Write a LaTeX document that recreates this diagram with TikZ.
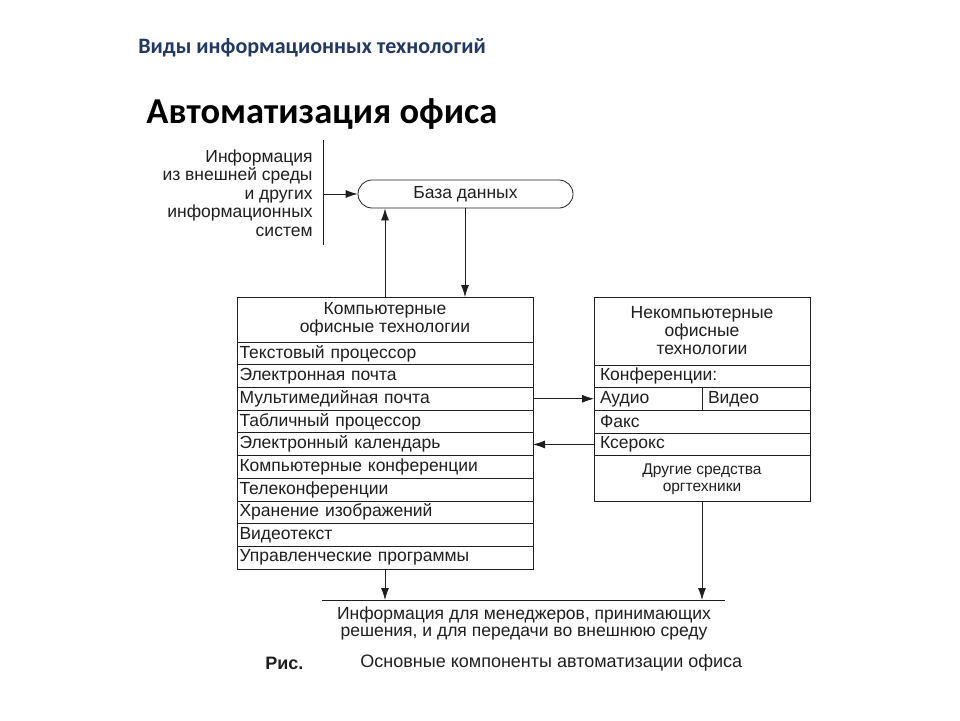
\documentclass[tikz,border=0pt]{standalone}
\usepackage{fontspec}
\setmainfont{Liberation Sans}
\newfontfamily\calibri{Carlito}
\usetikzlibrary{arrows.meta, positioning}
\definecolor{navy}{RGB}{32,56,100}
\definecolor{ink}{RGB}{30,30,30}
\tikzstyle{every node}=[font=\fontsize{17.5}{18}\selectfont, text=ink]
\tikzstyle{row}=[draw=ink, rectangle, anchor=north west, inner xsep=2.5pt, inner ysep=0pt, outer sep=0pt, align=left, minimum height=22.7pt]
\tikzstyle{head}=[draw=ink, rectangle, anchor=north west, inner sep=0pt, outer sep=0pt, align=center]
\tikzstyle{arr}=[-{Latex[length=12pt,width=8pt]}, draw=ink, line width=0.8pt]

\begin{document}
\begin{tikzpicture}[x=1pt, y=-1pt, line width=0.8pt]
    \useasboundingbox (0,0) rectangle (960,720);
    % titles
    \node[anchor=west, inner sep=0pt, text=navy, font=\calibri\bfseries\fontsize{22}{24}\selectfont] (kind) at (138,48) {Виды информационных технологий};
    \node[anchor=west, inner sep=0pt, text=black, font=\calibri\bfseries\fontsize{36.5}{40}\selectfont] (title) at (146,114) {Автоматизация офиса};
    % data base
    \node[draw=ink, rectangle, rounded corners=14pt, minimum width=215pt, minimum height=28pt, inner sep=0pt] (db) at (465.5,194) {База данных};
    \node[anchor=east, align=right, inner sep=0pt, font=\fontsize{17.5}{18.5}\selectfont] (input) at (313,193) {Информация\\из внешней среды\\и других\\информационных\\систем};
    \coordinate (wallT) at (323,140);
    \coordinate (wallB) at (323,245);
    \draw[ink] (wallT) -- (wallB);
    \draw[arr] (wallT |- db.west) -- (db.west);
    % computer technologies
    \node[head, minimum width=296pt, minimum height=45pt] (comp) at (237,297) {Компьютерные\\офисные технологии};
    \foreach \txt [count=\i] in {Текстовый процессор, Электронная почта, Мультимедийная почта,
        Табличный процессор, Электронный календарь, Компьютерные конференции,
        Телеконференции, Хранение изображений, Видеотекст, Управленческие программы}
        \node[row, minimum width=296pt, text width=291pt] (c\i) at (237,{342+(\i-1)*22.7}) {\txt};
    % non-computer technologies
    \node[head, minimum width=216pt, minimum height=68pt] (noncomp) at (594,297) {Некомпьютерные\\офисные\\технологии};
    \node[row, inner xsep=6pt, minimum width=216pt, text width=204pt] (conf) at (594,365) {Конференции:};
    \node[row, inner xsep=6pt, minimum width=108pt, text width=96pt] (audio) at (594,387.7) {Аудио};
    \node[row, inner xsep=6pt, minimum width=108pt, text width=96pt] (video) at (702,387.7) {Видео};
    \node[row, inner xsep=6pt, minimum width=216pt, text width=204pt] (fax) at (594,410.4) {Факс};
    \node[row, inner xsep=6pt, minimum width=216pt, text width=204pt] (xerox) at (594,433.1) {Ксерокс};
    \node[head, minimum width=216pt, minimum height=46pt, font=\fontsize{15.5}{17}\selectfont] (other) at (594,455.8) {Другие средства\\оргтехники};
    % links
    \coordinate (upx) at (385,0);
    \draw[arr] (comp.north -| upx) -- (db.south -| upx);
    \draw[arr] (db.south -| 465,0) -- (comp.north -| 465,0);
    \draw[arr] (c3.east) -- (c3.east -| audio.west);
    \draw[arr] (xerox.west) -- (xerox.west -| c5.east);
    % output
    \coordinate (outL) at (322,600);
    \coordinate (outR) at (725,600);
    \draw[ink] (outL) -- (outR);
    \draw[arr] (c10.south -| upx) -- (upx |- outL);
    \draw[arr] (other.south -| audio.east) -- (audio.east |- outL);
    \node[anchor=north, align=center, inner sep=0pt, font=\fontsize{17.5}{17.5}\selectfont] (info) at (524,606) {Информация для менеджеров, принимающих\\решения, и для передачи во внешнюю среду};
    \node[anchor=west, inner sep=0pt, font=\bfseries\fontsize{18}{18}\selectfont] (fig) at (265,663) {Рис.};
    \node[anchor=west, inner sep=0pt, font=\fontsize{18}{18}\selectfont] (caption) at (360,663) {Основные компоненты автоматизации офиса};
\end{tikzpicture}
\end{document}
